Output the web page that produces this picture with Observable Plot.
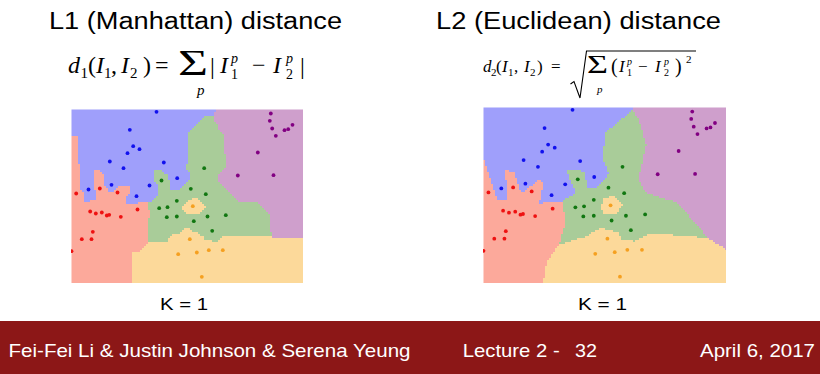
<!DOCTYPE html>
<html>
<head>
<meta charset="utf-8">
<script src="https://cdn.jsdelivr.net/npm/d3@7"></script>
<script src="https://cdn.jsdelivr.net/npm/@observablehq/plot@0.6"></script>
<style>
  html, body { margin: 0; padding: 0; background: #fff; }
  #slide { position: relative; width: 820px; height: 374px; overflow: hidden; background: #fff; }
  #deco { position: absolute; left: 0; top: 0; }
  .plotbox { position: absolute; }
  .plotbox svg { display: block; }
</style>
</head>
<body>
<div id="slide">
  <svg id="deco" width="820" height="374" xmlns="http://www.w3.org/2000/svg">
    <rect x="0" y="321" width="820" height="53" fill="#8c1717"></rect>
    <g font-family="'Liberation Sans', Arial, sans-serif" fill="#000">
      <text x="49" y="28.5" font-size="23" textLength="293" lengthAdjust="spacingAndGlyphs">L1 (Manhattan) distance</text>
      <text x="436" y="28.5" font-size="23" textLength="285" lengthAdjust="spacingAndGlyphs">L2 (Euclidean) distance</text>
      <text x="160" y="309.5" font-size="17" textLength="48" lengthAdjust="spacingAndGlyphs">K = 1</text>
      <text x="578" y="310" font-size="17" textLength="49" lengthAdjust="spacingAndGlyphs">K = 1</text>
    </g>
    <g font-family="'Liberation Sans Narrow', 'Liberation Sans', Arial, sans-serif" fill="#fff" font-size="18.5">
      <text x="8.5" y="357" textLength="402" lengthAdjust="spacingAndGlyphs">Fei-Fei Li &amp; Justin Johnson &amp; Serena Yeung</text>
      <text x="462.7" y="357" textLength="97" lengthAdjust="spacingAndGlyphs">Lecture 2 -</text>
      <text x="575" y="357" textLength="22" lengthAdjust="spacingAndGlyphs">32</text>
      <text x="700" y="357" textLength="115" lengthAdjust="spacingAndGlyphs">April 6, 2017</text>
    </g>
    <!-- formula 1 -->
    <g font-family="'Liberation Serif', 'DejaVu Serif', serif" fill="#000">
      <text x="68" y="73" font-size="24" font-style="italic">d</text>
      <text x="80.5" y="78" font-size="15">1</text>
      <text x="88" y="73" font-size="24">(</text>
      <text x="96" y="73" font-size="24" font-style="italic">I</text>
      <text x="104" y="78" font-size="15">1</text>
      <text x="111" y="73" font-size="24">,</text>
      <text x="121" y="73" font-size="24" font-style="italic">I</text>
      <text x="130" y="78" font-size="15">2</text>
      <text x="143" y="73" font-size="24">)</text>
      <text x="155" y="73" font-size="24">=</text>
      <text x="178" y="75" font-size="35" textLength="30" lengthAdjust="spacingAndGlyphs">Σ</text>
      <text x="197" y="95" font-size="15" font-style="italic">p</text>
      <text x="210" y="74" font-size="24">|</text>
      <text x="220" y="73" font-size="24" font-style="italic">I</text>
      <text x="231" y="63" font-size="14" font-style="italic">p</text>
      <text x="231" y="79" font-size="14">1</text>
      <text x="252" y="73" font-size="24">−</text>
      <text x="273" y="73" font-size="24" font-style="italic">I</text>
      <text x="286" y="63" font-size="14" font-style="italic">p</text>
      <text x="286" y="79" font-size="14">2</text>
      <text x="300" y="74" font-size="24">|</text>
    </g>
    <!-- formula 2 -->
    <g font-family="'Liberation Serif', 'DejaVu Serif', serif" fill="#000">
      <text x="483" y="72" font-size="17" font-style="italic">d</text>
      <text x="491" y="76" font-size="11">2</text>
      <text x="496" y="72" font-size="17">(</text>
      <text x="502" y="72" font-size="17" font-style="italic">I</text>
      <text x="508" y="76" font-size="11">1</text>
      <text x="514" y="72" font-size="17">,</text>
      <text x="524" y="72" font-size="17" font-style="italic">I</text>
      <text x="530" y="76" font-size="11">2</text>
      <text x="537" y="72" font-size="17">)</text>
      <text x="551" y="72" font-size="17">=</text>
      <path d="M570.5 84 L574 81.5 L580 98 L586.5 51 L696 51" fill="none" stroke="#000" stroke-width="1.1"></path>
      <text x="587" y="72.5" font-size="26" textLength="21" lengthAdjust="spacingAndGlyphs">Σ</text>
      <text x="597" y="93" font-size="11" font-style="italic">p</text>
      <text x="611" y="73" font-size="20">(</text>
      <text x="619" y="72" font-size="17" font-style="italic">I</text>
      <text x="627" y="65" font-size="10" font-style="italic">p</text>
      <text x="627" y="76" font-size="10">1</text>
      <text x="638" y="72" font-size="17">−</text>
      <text x="655" y="72" font-size="17" font-style="italic">I</text>
      <text x="664" y="65" font-size="10" font-style="italic">p</text>
      <text x="664" y="76" font-size="10">2</text>
      <text x="675" y="73" font-size="20">)</text>
      <text x="686" y="63" font-size="11">2</text>
    </g>
  </svg>
  <div id="left" class="plotbox" style="left:71px; top:109px;"></div>
  <div id="right" class="plotbox" style="left:483px; top:107px;"></div>
</div>
<script>
// Class labels and colours
const classes = ["class A", "class B", "class C", "class D", "class E"];
const regionColors = ["#9f9ffb", "#cf9fcc", "#a9cc99", "#fca99b", "#fcd99a"];
const pointColors = ["#1111ee", "#820082", "#117711", "#ee1111", "#f5a020"];

// Training points (x, y); y grows downward
const ptsA = [[85, 2.3], [58.3, 20.3], [61.7, 36.7], [68, 39.7], [56, 43.7], [38.3, 52], [92.3, 53], [52, 58.7], [105.7, 68.7], [40, 75.3], [78, 76], [17, 80], [65, 86.7]];
const ptsB = [[199.3, 4], [198.3, 11.3], [221, 15.3], [200.7, 19], [216.7, 19.7], [213, 20.7], [204.3, 26.3], [186.3, 43], [166.3, 66], [202, 65.7]];
const ptsC = [[132.7, 58.7], [90, 71], [119.3, 79.3], [134.3, 84.7], [105.3, 91.3], [87.7, 98.7], [96, 97.7], [95.3, 107.7], [105.3, 107], [136, 107], [154.3, 105.7], [122.3, 111.7], [140.7, 121.3]];
const ptsD = [[4.7, 84], [28.3, 79], [46, 83], [66, 100], [18.7, 102], [24.3, 104], [30.3, 103], [35.3, 106], [37.7, 105.3], [49.3, 107.3], [21.3, 122.3], [10.3, 129.7], [20, 129.7], [0, 141.7]];
const ptsE = [[121.3, 96.7], [118.3, 129.7], [106.7, 144.7], [125.3, 143], [137.3, 140.7], [151.3, 140.7], [130.3, 167.3]];

const xDomain = [0, 232];
const yDomain = [0, 174];

const groups = [ptsA, ptsB, ptsC, ptsD, ptsE];
const points = groups.flatMap((g, i) => g.map(([x, y]) => ({x, y, c: classes[i]})));

function nearest(x, y, metric) {
  let best = Infinity, bc = null;
  for (const p of points) {
    const dx = Math.abs(x - p.x), dy = Math.abs(y - p.y);
    const d = metric === "L1" ? dx + dy : dx * dx + dy * dy;
    if (d < best) { best = d; bc = p.c; }
  }
  return bc;
}

function chart(metric, w, h) {
  return Plot.plot({
    width: w,
    height: h,
    margin: 0,
    style: {background: "transparent"},
    x: {domain: xDomain, axis: null},
    y: {domain: yDomain, reverse: true, axis: null},
    color: {type: "ordinal", domain: classes, range: regionColors},
    marks: [
      Plot.raster({
        x1: xDomain[0], y1: yDomain[0], x2: xDomain[1], y2: yDomain[1],
        fill: (x, y) => nearest(x, y, metric),
        pixelSize: 2,
        imageRendering: "pixelated"
      }),
      ...classes.map((c, i) => Plot.dot(points.filter(p => p.c === c), {
        x: "x", y: "y", r: 1.9, fill: pointColors[i], stroke: null, clip: true
      }))
    ]
  });
}

document.getElementById("left").append(chart("L1", 232, 174));
document.getElementById("right").append(chart("L2", 243, 176));
</script>
</body>
</html>
